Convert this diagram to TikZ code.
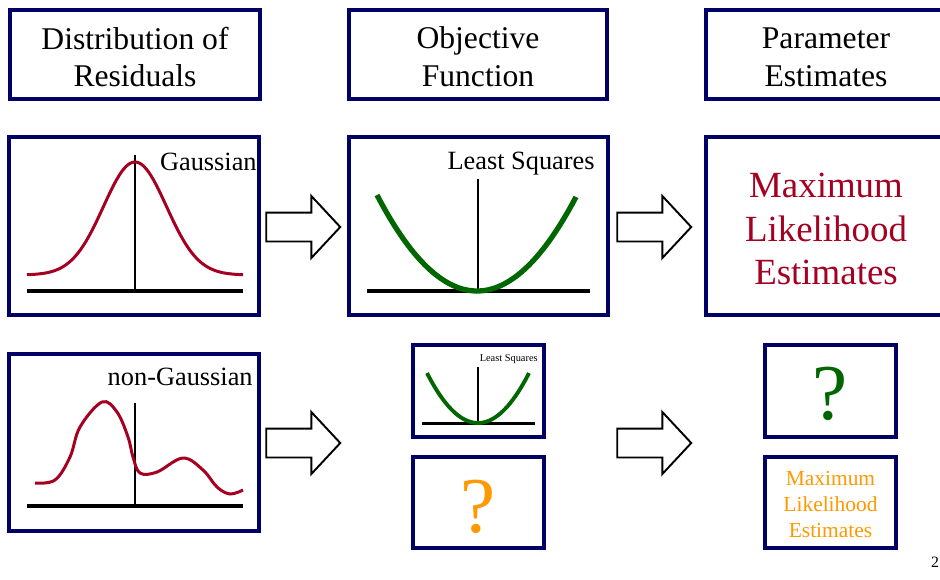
\documentclass[tikz,border=0pt]{standalone}
\usepackage{fontspec}
\setmainfont{Liberation Serif}
\usetikzlibrary{shapes.arrows}
\definecolor{boxnavy}{HTML}{000066}
\definecolor{curvered}{HTML}{A50021}
\definecolor{lsgreen}{HTML}{006600}
\definecolor{qorange}{HTML}{FF9900}

\begin{document}
\begin{tikzpicture}[x=0.02cm, y=-0.02cm,
    panel/.style={draw=boxnavy, line width=2pt, fill=white, inner sep=0pt},
    boxtext/.style={inner sep=0pt, align=center},
    headtext/.style={boxtext, font=\fontsize{18}{21.6}\selectfont},
    qmark/.style={boxtext, font=\fontsize{45}{50}\selectfont},
    bigarrow/.style={single arrow, draw=black, fill=white, line width=1.1pt,
      inner xsep=0pt, inner ysep=0.27cm, minimum height=1.48cm,
      single arrow head extend=0.33cm, single arrow tip angle=94},
    axisline/.style={line width=1.9pt},
    midline/.style={line width=0.6pt},
    plotlbl/.style={font=\fontsize{15}{18}\selectfont, inner sep=0pt, anchor=base east}
  ]
    \clip (0,0) rectangle (940,579);

    % Column headers
    \node[panel, minimum width=5cm, minimum height=1.78cm]    (hdist) at (135,54.5) {};
    \node[panel, minimum width=5.16cm, minimum height=1.78cm] (hobj)  at (478,54.5) {};
    \node[panel, minimum width=4.8cm, minimum height=1.78cm]  (hpar)  at (826,54.5) {};
    \node[headtext] (hdisttxt) at ([yshift=-0.05cm]hdist.center) {Distribution of\\Residuals};
    \node[headtext] (hobjtxt)  at ([yshift=-0.05cm]hobj.center) {Objective\\Function};
    \node[headtext] (hpartxt)  at ([yshift=-0.05cm]hpar.center) {Parameter\\Estimates};

    % Gaussian row
    \node[panel, minimum width=5cm, minimum height=3.56cm]    (gauss) at (134,226) {};
    \node[panel, minimum width=5.18cm, minimum height=3.56cm] (lsq)   at (478.5,226) {};
    \node[panel, minimum width=4.8cm, minimum height=3.56cm]  (mle)   at (826,226) {};
    \node[boxtext, text=curvered, font=\fontsize{21}{25}\selectfont] (mletxt)
      at ([yshift=-0.06cm]mle.center) {Maximum\\Likelihood\\Estimates};

    % non-Gaussian row
    \node[panel, minimum width=5cm, minimum height=3.54cm]    (ngauss)   at (134,442.5) {};
    \node[panel, minimum width=2.62cm, minimum height=1.84cm] (lssmall)  at (478.5,391) {};
    \node[panel, minimum width=2.62cm, minimum height=1.82cm] (qobj)     at (478.5,502.5) {};
    \node[panel, minimum width=2.62cm, minimum height=1.84cm] (qpar)     at (830.5,391) {};
    \node[panel, minimum width=2.62cm, minimum height=1.82cm] (mlesmall) at (830.5,502.5) {};
    \node[qmark, text=qorange] (qobjtxt) at ([yshift=-0.08cm]qobj.center) {?};
    \node[qmark, text=lsgreen] (qpartxt) at ([yshift=-0.06cm]qpar.center) {?};
    \node[boxtext, text=qorange, font=\fontsize{12.2}{14.8}\selectfont] (mlesmalltxt)
      at ([yshift=-0.04cm]mlesmall.center) {Maximum\\Likelihood\\Estimates};

    % Block arrows
    \node[bigarrow] (arrgauss)  at (296.5,227) {};
    \node[bigarrow] (arrlsq)    at (647.5,227) {};
    \node[bigarrow] (arrngauss) at (296.5,443) {};
    \node[bigarrow] (arrsmall)  at (647.5,443) {};

    % Gaussian density
    \draw[axisline] (27,291) -- (243,291);
    \draw[midline] (135,155) -- (135,291);
    \draw[curvered, line width=1.7pt] plot[domain=27:243, samples=90]
      (\x, {275-113*exp(-0.5*((\x-135)/31.5)^2)});
    \node[plotlbl] (lblgauss) at (257,170) {Gaussian};

    % Least squares objective
    \draw[axisline] (367,291) -- (590,291);
    \draw[midline] (478,179) -- (478,291);
    \draw[lsgreen, line width=3pt] plot[domain=377:576, samples=60]
      (\x, {291-0.0096*(\x-477)^2});
    \node[plotlbl] (lbllsq) at (595,169) {Least Squares};

    % small least squares
    \draw[line width=1.7pt] (422,423) -- (535,423);
    \draw[midline] (478,367) -- (478,423);
    \draw[lsgreen, line width=2.2pt] plot[domain=427:529, samples=40]
      (\x, {423-0.0192*(\x-478)^2});
    \node[plotlbl, font=\fontsize{5.9}{7}\selectfont] (lblsmall) at (538,361) {Least Squares};

    % non-Gaussian density
    \draw[axisline] (27,506) -- (243,506);
    \draw[midline] (135,403) -- (135,506);
    \draw[curvered, line width=1.7pt] plot[smooth, tension=0.6] coordinates {
      (35,483) (55,480) (70,457) (80,427) (102,402) (117,412) (128,437) (133,457)
      (140,473) (157,472) (183,458) (203,470) (217,487) (230,494) (243,490)};
    \node[plotlbl] (lblngauss) at (253,385) {non-Gaussian};

    % page number
    \node[font=\fontsize{9}{10}\selectfont, inner sep=0pt] (pageno) at (935,562) {2};
  \end{tikzpicture}
\end{document}
